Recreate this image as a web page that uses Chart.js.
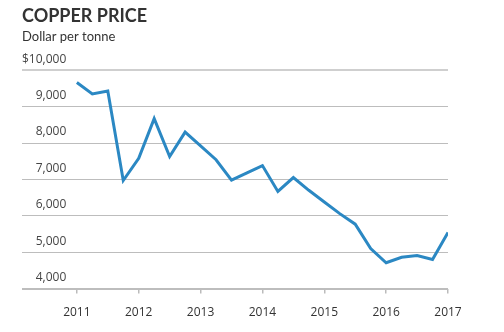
<!DOCTYPE html>
<html>
<head>
<meta charset="utf-8">
<script src="https://cdn.jsdelivr.net/npm/chart.js@4"></script>
<style>
  html, body { margin: 0; padding: 0; background: #fff; }
  #wrap { width: 504px; height: 332px; position: relative; }
</style>
</head>
<body>
<div id="wrap"><canvas id="chart"></canvas></div>
<script>
// Copper price, quarterly, dollar per tonne
const quarters = [
  2011, 2011.25, 2011.5, 2011.75,
  2012, 2012.25, 2012.5, 2012.75,
  2013, 2013.25, 2013.5, 2013.75,
  2014, 2014.25, 2014.5, 2014.75,
  2015, 2015.25, 2015.5, 2015.75,
  2016, 2016.25, 2016.5, 2016.75,
  2017
];
const prices = [
  9660, 9350, 9430, 6970,
  7580, 8670, 7630, 8300,
  7920, 7540, 6980, 7180,
  7380, 6670, 7050, 6700,
  6380, 6060, 5770, 5100,
  4710, 4860, 4910, 4800,
  5540
];
const xTicks = [2011, 2012, 2013, 2014, 2015, 2016, 2017];
const yTicks = [4000, 5000, 6000, 7000, 8000, 9000, 10000];
const yTickLabels = ["4,000", "5,000", "6,000", "7,000", "8,000", "9,000", "$10,000"];

const TEXT = "#333";
const BLUE = "#2b88c3";

const points = quarters.map((q, i) => ({ x: q, y: prices[i] }));

new Chart(document.getElementById("chart"), {
  type: "line",
  data: {
    datasets: [{
      data: points,
      borderColor: BLUE,
      borderWidth: 3,
      pointRadius: 0,
      tension: 0,
      borderJoinStyle: "miter"
    }]
  },
  options: {
    responsive: true,
    maintainAspectRatio: false,
    animation: false,
    layout: { padding: { left: 22, right: 56, top: 0, bottom: 0 } },
    plugins: {
      legend: { display: false },
      tooltip: { enabled: false },
      title: {
        display: true,
        text: "COPPER PRICE",
        align: "start",
        color: TEXT,
        font: { family: "Lato", size: 18, weight: "bold" },
        padding: { top: 5, bottom: 1 }
      },
      subtitle: {
        display: true,
        text: "Dollar per tonne",
        align: "start",
        color: TEXT,
        font: { family: "Lato", size: 13 },
        padding: { top: 1, bottom: 26 }
      }
    },
    scales: {
      x: {
        type: "linear",
        min: 2010.113,
        max: 2017,
        border: { display: false },
        grid: {
          drawOnChartArea: false,
          drawTicks: true,
          tickLength: 5,
          color: "#bbb",
          lineWidth: 1.5
        },
        afterBuildTicks: (scale) => {
          scale.ticks = xTicks.map(v => ({ value: v }));
        },
        ticks: {
          color: TEXT,
          padding: 12,
          font: { family: "Open Sans", size: 12 },
          callback: (v) => String(v)
        }
      },
      y: {
        min: 4000,
        max: 10000,
        border: { display: false },
        grid: {
          drawTicks: false,
          color: (ctx) => ctx.tick && ctx.tick.value === 10000 ? "#cfcfcf" : "#bdbdbd",
          lineWidth: (ctx) => ctx.tick && (ctx.tick.value === 10000 || ctx.tick.value === 4000) ? 2 : 1
        },
        afterBuildTicks: (scale) => {
          scale.ticks = yTicks.map(v => ({ value: v }));
        },
        ticks: {
          mirror: true,
          crossAlign: "far",
          padding: 0,
          labelOffset: -11,
          color: "#444",
          font: { family: "Open Sans", size: 12 },
          callback: (v) => yTickLabels[yTicks.indexOf(v)]
        }
      }
    }
  }
});
</script>
</body>
</html>
